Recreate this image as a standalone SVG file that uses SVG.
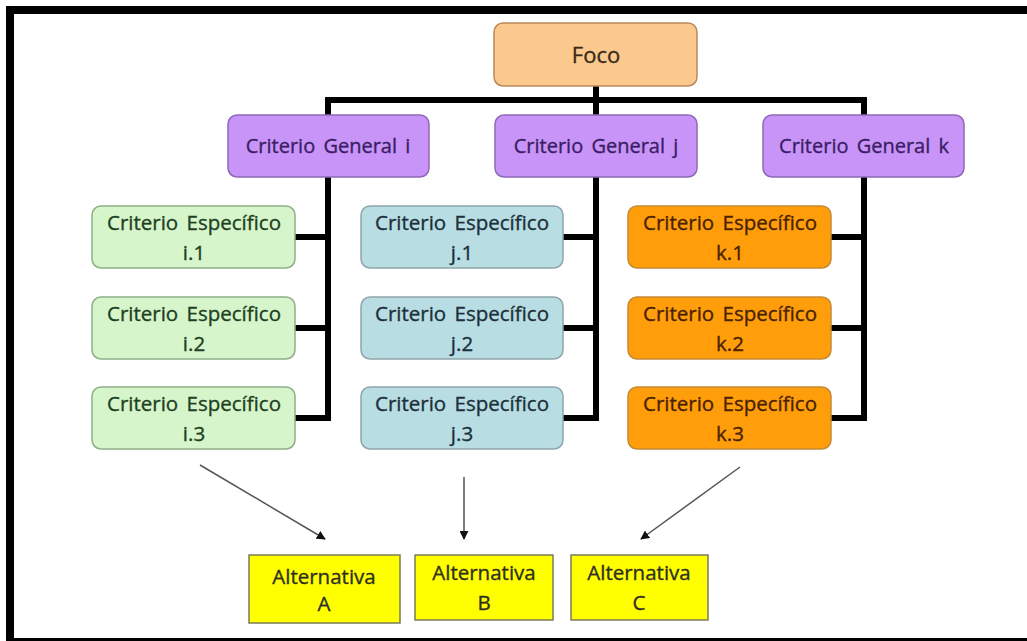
<svg xmlns="http://www.w3.org/2000/svg" width="1027" height="641" viewBox="0 0 1027 641">
  <defs>
    <marker id="tip" viewBox="0 0 10 10" refX="9" refY="5" markerWidth="9" markerHeight="9" markerUnits="userSpaceOnUse" orient="auto">
      <path d="M0,0 L10,5 L0,10 z" fill="#111"/>
    </marker>
    <style>
      text { font-family: "Open Sans", "Liberation Sans", sans-serif; text-anchor: middle; stroke-width: 0.35px; }
      .foco rect { fill: #FBC98E; stroke: #B98A5A; stroke-width: 1.5; }
      .foco text { fill: #3a2a1a; stroke: #3a2a1a; font-size: 22px; }
      .gen rect { fill: #C894F7; stroke: #8E68B8; stroke-width: 1.5; }
      .gen text { fill: #3B1D66; stroke: #3B1D66; font-size: 20px; word-spacing: 3px; }
      .esp text { font-size: 20.5px; word-spacing: 3px; }
      .ci rect { fill: #D6F5CB; stroke: #8FAE86; stroke-width: 1.5; }
      .ci text { fill: #1E3F22; stroke: #1E3F22; }
      .cj rect { fill: #B8DDE2; stroke: #8EA6AA; stroke-width: 1.5; }
      .cj text { fill: #1C2F3A; stroke: #1C2F3A; }
      .ck rect { fill: #FF9E0A; stroke: #C58A36; stroke-width: 1.5; }
      .ck text { fill: #4A2200; stroke: #4A2200; }
      .alt rect { fill: #FFFF00; stroke: #7B7B5A; stroke-width: 1.5; }
      .alt text { fill: #2F2F20; stroke: #2F2F20; font-size: 20.5px; }
      .bus { fill: none; stroke: #000; stroke-width: 6; stroke-linejoin: miter; }
      .arrow { stroke: #555; stroke-width: 1.5; fill: none; marker-end: url(#tip); }
    </style>
  </defs>

  <rect x="0" y="0" width="1027" height="641" fill="#fff"/>
  <!-- outer frame (left, top and bottom edges) -->
  <rect x="6" y="6" width="1021" height="8" fill="#000"/>
  <rect x="6" y="6" width="8" height="635" fill="#000"/>
  <rect x="6" y="638" width="1021" height="3" fill="#000"/>

  <g id="connectors">
    <path class="bus" d="M596,86 V115 M328,115 V100 H864 V115"/>
    <path class="bus" d="M328,177 V421 M295,237 H331 M295,328 H331 M295,418 H331"/>
    <path class="bus" d="M596,177 V421 M563,237 H599 M563,328 H599 M563,418 H599"/>
    <path class="bus" d="M864,177 V421 M831,237 H867 M831,328 H867 M831,418 H867"/>
    <line class="arrow" x1="200" y1="465" x2="325" y2="539"/>
    <line class="arrow" x1="464" y1="477" x2="464" y2="539"/>
    <line class="arrow" x1="740" y1="467" x2="641" y2="539"/>
  </g>

  <g id="foco" class="foco">
    <rect x="494" y="23" width="203" height="63" rx="9"/>
    <text x="596" y="63">Foco</text>
  </g>

  <g id="general-i" class="gen">
    <rect x="228" y="115" width="201" height="62" rx="9"/>
    <text x="328" y="153">Criterio General i</text>
  </g>
  <g id="general-j" class="gen">
    <rect x="495" y="115" width="202" height="62" rx="9"/>
    <text x="596" y="153">Criterio General j</text>
  </g>
  <g id="general-k" class="gen">
    <rect x="763" y="115" width="201" height="62" rx="9"/>
    <text x="864" y="153">Criterio General k</text>
  </g>

  <g id="especifico-i1" class="esp ci">
    <rect x="92" y="206" width="203" height="62" rx="9"/>
    <text x="194" y="230">Criterio Específico</text>
    <text x="194" y="260">i.1</text>
  </g>
  <g id="especifico-i2" class="esp ci">
    <rect x="92" y="297" width="203" height="62" rx="9"/>
    <text x="194" y="321">Criterio Específico</text>
    <text x="194" y="351">i.2</text>
  </g>
  <g id="especifico-i3" class="esp ci">
    <rect x="92" y="387" width="203" height="62" rx="9"/>
    <text x="194" y="411">Criterio Específico</text>
    <text x="194" y="441">i.3</text>
  </g>

  <g id="especifico-j1" class="esp cj">
    <rect x="361" y="206" width="202" height="62" rx="9"/>
    <text x="462" y="230">Criterio Específico</text>
    <text x="462" y="260">j.1</text>
  </g>
  <g id="especifico-j2" class="esp cj">
    <rect x="361" y="297" width="202" height="62" rx="9"/>
    <text x="462" y="321">Criterio Específico</text>
    <text x="462" y="351">j.2</text>
  </g>
  <g id="especifico-j3" class="esp cj">
    <rect x="361" y="387" width="202" height="62" rx="9"/>
    <text x="462" y="411">Criterio Específico</text>
    <text x="462" y="441">j.3</text>
  </g>

  <g id="especifico-k1" class="esp ck">
    <rect x="628" y="206" width="203" height="62" rx="9"/>
    <text x="730" y="230">Criterio Específico</text>
    <text x="730" y="260">k.1</text>
  </g>
  <g id="especifico-k2" class="esp ck">
    <rect x="628" y="297" width="203" height="62" rx="9"/>
    <text x="730" y="321">Criterio Específico</text>
    <text x="730" y="351">k.2</text>
  </g>
  <g id="especifico-k3" class="esp ck">
    <rect x="628" y="387" width="203" height="62" rx="9"/>
    <text x="730" y="411">Criterio Específico</text>
    <text x="730" y="441">k.3</text>
  </g>

  <g id="alternativa-a" class="alt">
    <rect x="249" y="555" width="151" height="68"/>
    <text x="324" y="584">Alternativa</text>
    <text x="324" y="611">A</text>
  </g>
  <g id="alternativa-b" class="alt">
    <rect x="415" y="555" width="138" height="65"/>
    <text x="484" y="580">Alternativa</text>
    <text x="484" y="610">B</text>
  </g>
  <g id="alternativa-c" class="alt">
    <rect x="571" y="555" width="137" height="65"/>
    <text x="639" y="580">Alternativa</text>
    <text x="639" y="610">C</text>
  </g>
</svg>
